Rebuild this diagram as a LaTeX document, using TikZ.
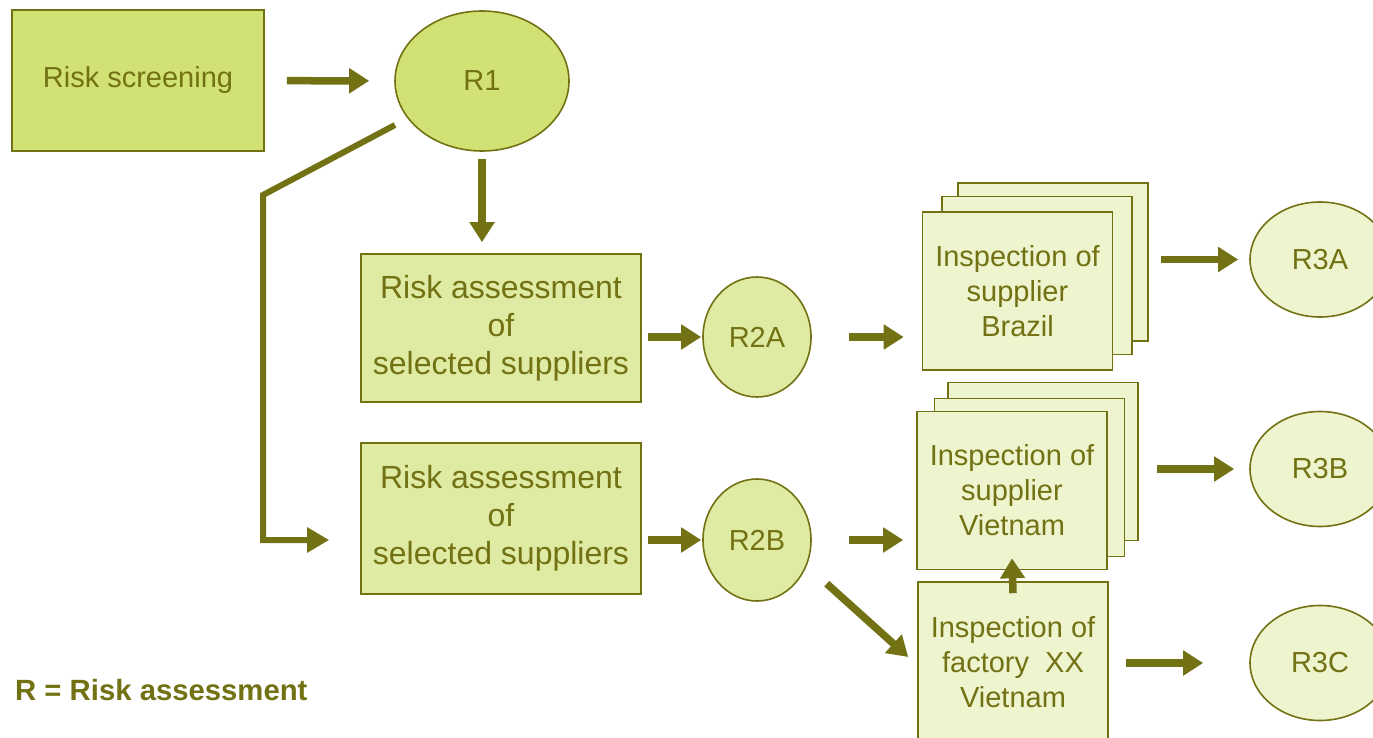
\documentclass[tikz,border=0pt]{standalone}
\usepackage{fontspec}
\setmainfont{Liberation Sans}
\usepackage{tikz}
\usetikzlibrary{calc,positioning,arrows,arrows.meta,shapes}
\definecolor{dkolive}{RGB}{114,114,20}
\definecolor{limedk}{RGB}{210,225,115}
\definecolor{limemd}{RGB}{223,234,162}
\definecolor{limept}{RGB}{238,244,205}

\begin{document}
\begin{tikzpicture}[x=1pt, y=-1pt,
  box/.style={rectangle, draw=dkolive, line width=1.6pt, inner sep=0pt, align=center, text=dkolive, font=\fontsize{29}{38}\selectfont},
  rnd/.style={ellipse, draw=dkolive, line width=1.6pt, inner sep=0pt, text=dkolive, font=\fontsize{29}{35}\selectfont},
  arr/.style={draw=dkolive, line width=7.5pt, -{Triangle[length=20pt,width=24pt]}}]
\tikzstyle{insp}=[box, fill=limept, minimum width=190pt, minimum height=158pt, font=\fontsize{29}{35}\selectfont]
\tikzstyle{assess}=[box, fill=limemd, minimum width=280pt, font=\fontsize{32}{38}\selectfont]
\useasboundingbox (0,0) rectangle (1373,738);

% first level
\node[box, fill=limedk, minimum width=252pt, minimum height=141pt] (scr) at (138,80.5) {Risk screening};
\node[rnd, fill=limedk, minimum width=174pt, minimum height=140pt] (R1) at (482,81) {R1};

% second level
\node[assess, minimum height=148pt] (RA1) at (501,328) {Risk assessment\\of\\selected suppliers};
\node[assess, minimum height=151pt] (RA2) at (501,518.5) {Risk assessment\\of\\selected suppliers};
\node[rnd, fill=limemd, minimum width=108pt, minimum height=120pt] (R2A) at (757,337) {R2A};
\node[rnd, fill=limemd, minimum width=108pt, minimum height=122pt] (R2B) at (757,540) {R2B};

% stacked inspections
\foreach \i/\x/\y in {3/1053/262,2/1037/275.5}{
\node[insp] (B\i) at (\x,\y) {};
}
\node[insp] (B1) at (1017.5,291) {Inspection of\\supplier\\Brazil};
\foreach \i/\x/\y in {3/1043/461.5,2/1029.5/477.5}{
\node[insp] (V\i) at (\x,\y) {};
}
\node[insp] (V1) at (1012,490.5) {Inspection of\\supplier\\Vietnam};
\node[insp, minimum height=160pt] (F) at (1013,662) {Inspection of\\factory~ XX\\Vietnam};

% third level
\node[rnd, fill=limept, minimum width=140pt, minimum height=115pt] (R3A) at (1320,259.5) {R3A};
\node[rnd, fill=limept, minimum width=140pt, minimum height=115pt] (R3B) at (1320,469) {R3B};
\node[rnd, fill=limept, minimum width=140pt, minimum height=115pt] (R3C) at (1320,663) {R3C};

\node[anchor=west, inner sep=0pt, text=dkolive, font=\bfseries\fontsize{29.3}{31}\selectfont] (key) at (15,690) {R = Risk assessment};

% connectors
\draw[arr, shorten <=22pt, shorten >=25pt] (scr) -- (R1);
\draw[arr, shorten <=7pt, shorten >=11pt] (R1.south) -- (R1.south |- RA1.north);
\coordinate (lstart) at (395,125);
\coordinate (lbend) at (263,195);
\draw[draw=dkolive, line width=6pt, -{Triangle[length=22pt,width=24pt]}] (lstart) -- (lbend) |- ($(RA2.west |- R2B)+(-31,0)$);
\draw[arr, shorten <=6pt, shorten >=1pt] (RA1.east |- R2A) -- (R2A.west);
\draw[arr, shorten <=6pt, shorten >=1pt] (RA2.east |- R2B) -- (R2B.west);
\draw[arr, shorten <=37pt, shorten >=18pt] (R2A.east) -- (R2A.east -| B1.west);
\draw[arr, shorten <=37pt, shorten >=13pt] (R2B.east) -- (R2B.east -| V1.west);
\draw[arr, shorten <=12pt, shorten >=11pt] (B3.east |- R3A) -- (R3A.west);
\draw[arr, shorten <=18pt, shorten >=15pt] (V3.east |- R3B) -- (R3B.west);
\draw[arr, shorten <=17pt, shorten >=46pt] (F.east |- R3C) -- (R3C.west);
\draw[arr] ([yshift=-12pt]F.north) -- ([yshift=12pt]V1.south);
\draw[arr] ([xshift=31pt]R2B.south east) -- ([xshift=-9pt,yshift=5pt]F.west);

\end{tikzpicture}
\end{document}
